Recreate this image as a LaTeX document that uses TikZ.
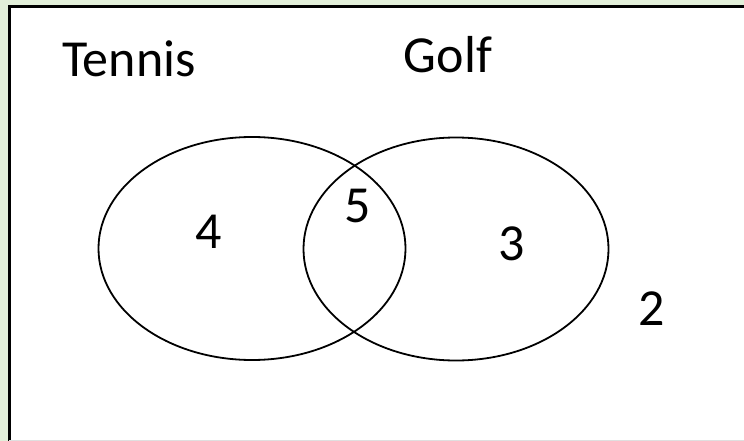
\documentclass[tikz,border=0pt]{standalone}
\usepackage{fontspec}
\usetikzlibrary{shapes.geometric}
\setmainfont{Carlito}
\definecolor{bggreen}{HTML}{E2EFD9}
\begin{document}
\begin{tikzpicture}[x=1pt,y=-1pt,
  lbl/.style={font=\fontsize{52}{60}\selectfont, inner sep=0pt, anchor=base},
  setc/.style={draw=black, line width=1.8pt, ellipse, inner sep=0pt, outer sep=0pt}]
\useasboundingbox (0,0) rectangle (744,441);
\fill[bggreen] (0,0) rectangle (744,441);
\fill[white] (9,7) rectangle (744,441);
\draw[black, line width=3pt] (9,441) -- (9,7) -- (744,7);
\draw[gray!25, line width=1pt] (9,440.5) -- (744,440.5);
\node[setc, minimum width=307pt, minimum height=223pt] (tset) at (252,248.5) {};
\node[setc, minimum width=305pt, minimum height=223pt] (gset) at (456,249) {};
\node[lbl] (tennis) at (129,76.7) {Tennis};
\node[lbl] (golf) at (448,72.7) {Golf};
\node[lbl] (n4) at (209,248.3) {4};
\node[lbl] (n5) at (357.5,222.7) {5};
\node[lbl] (n3) at (512,260) {3};
\node[lbl] (n2) at (652,325) {2};
\end{tikzpicture}
\end{document}
